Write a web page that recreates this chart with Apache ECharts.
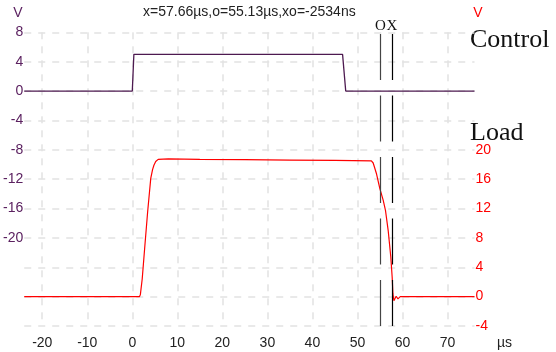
<!DOCTYPE html>
<html>
<head>
<meta charset="utf-8">
<script src="https://cdn.jsdelivr.net/npm/echarts@6/dist/echarts.min.js"></script>
<style>
  html, body { margin: 0; padding: 0; background: #fff; }
  #chart { width: 556px; height: 352px; }
</style>
</head>
<body>
<div id="chart"></div>
<script>
// Time base (µs) and the two captured channels
const controlTime = [-24, 0.0, 0.35, 46.7, 47.4, 76];
const controlVolts = [0, 0, 5.0, 5.0, 0, 0];

const loadTime = [-24, 1.6, 1.8, 2.2, 2.8, 3.4, 3.75, 4.1, 4.5, 4.8, 5.2, 5.75, 8, 15, 25, 35, 45,
  53.1, 53.5, 54.25, 54.98, 55.73, 56.24, 56.83, 57.41, 57.72, 57.88, 58.1, 58.6, 59.0, 59.5, 76];
const loadVolts = [0, 0, 0.3, 2.4, 7.0, 11.5, 13.8, 16.1, 17.3, 17.9, 18.4, 18.7, 18.75, 18.7, 18.65, 18.6, 18.55,
  18.5, 18.2, 16.7, 14.7, 13.1, 11.7, 9.0, 5.4, 2.6, 0.4, -0.55, 0.05, -0.3, 0, 0];

// Cursor positions (µs)
const cursorO = 55.13;
const cursorX = 57.66;

const timeTicks = [-20, -10, 0, 10, 20, 30, 40, 50, 60, 70];
const readout = 'x=57.66µs,o=55.13µs,xo=-2534ns';

const pairs = (xs, ys) => xs.map((x, i) => [x, ys[i]]);

const purple = '#4d1a50';
const purpleText = '#5b2160';
const red = '#ff0000';
const gridColor = '#e2e2e2';
const sans = '"Liberation Sans", Arial, sans-serif';
const serif = '"Liberation Serif", "Times New Roman", serif';

const chart = echarts.init(document.getElementById('chart'), null, { renderer: 'canvas' });

chart.setOption({
  animation: false,
  backgroundColor: '#fff',
  grid: { left: 22.5, right: 81.5, top: 32.3, bottom: 26, containLabel: false },
  xAxis: {
    type: 'value',
    min: -24,
    max: 76,
    axisLine: { show: false },
    axisTick: { show: false, customValues: timeTicks },
    axisLabel: {
      customValues: timeTicks,
      color: '#222',
      fontFamily: sans,
      fontSize: 14,
      margin: 10
    },
    splitLine: { show: true, lineStyle: { color: gridColor, width: 1.5, type: [7, 7] } }
  },
  yAxis: [
    {
      type: 'value',
      min: -32,
      max: 8,
      interval: 4,
      axisLine: { show: false },
      axisTick: { show: false },
      axisLabel: {
        color: purpleText,
        fontFamily: sans,
        fontSize: 14,
        margin: 1,
        formatter: v => (v >= -20 ? String(v) : '')
      },
      splitLine: { show: true, lineStyle: { color: gridColor, width: 1.5, type: [7, 7] } }
    },
    {
      type: 'value',
      position: 'right',
      min: -4,
      max: 36,
      interval: 4,
      axisLine: { show: false },
      axisTick: { show: false },
      axisLabel: {
        color: red,
        fontFamily: sans,
        fontSize: 14,
        margin: 1,
        formatter: v => (v <= 20 ? String(v) : '')
      },
      splitLine: { show: false }
    }
  ],
  series: [
    {
      name: 'Control',
      type: 'line',
      yAxisIndex: 0,
      data: pairs(controlTime, controlVolts),
      showSymbol: false,
      lineStyle: { color: purple, width: 1.3 },
      z: 3
    },
    {
      name: 'Load',
      type: 'line',
      yAxisIndex: 1,
      data: pairs(loadTime, loadVolts),
      showSymbol: false,
      lineStyle: { color: red, width: 1.2 },
      z: 4,
      markLine: {
        silent: true,
        symbol: ['none', 'none'],
        animation: false,
        label: {
          show: true,
          position: 'end',
          distance: -1,
          color: '#111',
          fontFamily: serif,
          fontSize: 15
        },
        data: [
          { xAxis: cursorO, label: { formatter: 'O' }, lineStyle: { color: '#444', width: 1.2, type: [46, 15.5] } },
          { xAxis: cursorX, label: { formatter: 'X' }, lineStyle: { color: '#000', width: 1.2, type: [46, 15.5] } }
        ]
      }
    }
  ],
  graphic: [
    { type: 'text', left: 143, top: 5, style: { text: readout, font: '14px ' + sans, fill: '#222' } },
    { type: 'text', x: 18, y: 13, style: { text: 'V', font: '14px ' + sans, fill: purpleText, align: 'center', verticalAlign: 'middle' } },
    { type: 'text', x: 478, y: 13, style: { text: 'V', font: '14px ' + sans, fill: red, align: 'center', verticalAlign: 'middle' } },
    { type: 'text', x: 497, y: 343, style: { text: 'µs', font: '14px ' + sans, fill: '#222', align: 'left', verticalAlign: 'middle' } },
    { type: 'text', x: 470, y: 40.5, style: { text: 'Control', font: '26px ' + serif, fill: '#111', align: 'left', verticalAlign: 'middle' } },
    { type: 'text', x: 470, y: 133, style: { text: 'Load', font: '26px ' + serif, fill: '#111', align: 'left', verticalAlign: 'middle' } }
  ]
});
</script>
</body>
</html>
